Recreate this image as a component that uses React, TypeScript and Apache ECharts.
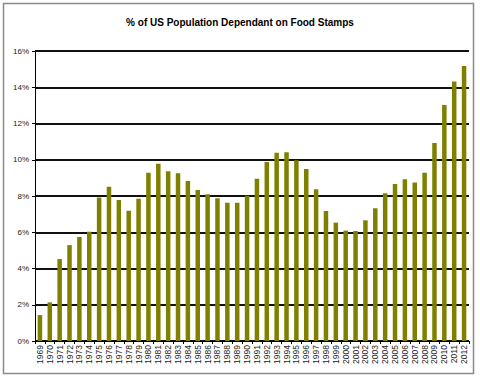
import React, { useEffect, useRef } from "react";
import * as echarts from "echarts";

const years = [
  "1969","1970","1971","1972","1973","1974","1975","1976","1977","1978","1979",
  "1980","1981","1982","1983","1984","1985","1986","1987","1988","1989","1990",
  "1991","1992","1993","1994","1995","1996","1997","1998","1999","2000","2001",
  "2002","2003","2004","2005","2006","2007","2008","2009","2010","2011","2012",
];
const pctValues = [
  1.43, 2.13, 4.52, 5.29, 5.74, 6.03, 7.92, 8.51, 7.78, 7.19, 7.85,
  9.28, 9.78, 9.36, 9.25, 8.83, 8.33, 8.09, 7.87, 7.63, 7.63, 8.02,
  8.95, 9.87, 10.39, 10.42, 9.97, 9.49, 8.37, 7.17, 6.53, 6.09, 6.07,
  6.66, 7.32, 8.15, 8.66, 8.92, 8.75, 9.28, 10.92, 13.02, 14.32, 15.17,
];
const titleText = "% of US Population Dependant on Food Stamps";

export default function App() {
  const ref = useRef<HTMLDivElement>(null);
  useEffect(() => {
    if (!ref.current) return;
    const chart = echarts.init(ref.current, null, { renderer: "svg" });
    chart.setOption({
      animation: false,
      backgroundColor: "#ffffff",
      title: {
        text: titleText,
        left: "center",
        top: 12,
        textStyle: { fontFamily: "Liberation Sans", fontSize: 10, fontWeight: "bold", color: "#000" },
      },
      graphic: [
        {
          type: "rect",
          shape: { x: 3.5, y: 3.5, width: 470, height: 370 },
          style: { fill: "none", stroke: "#8a8a8a", lineWidth: 1.5 },
        },
      ],
      grid: { left: 35, right: 11, top: 51, bottom: 36, containLabel: false },
      xAxis: {
        type: "category",
        data: years,
        axisLine: { lineStyle: { color: "#000", width: 1 } },
        axisTick: { show: true, alignWithLabel: false, length: 3, lineStyle: { color: "#000" } },
        axisLabel: {
          rotate: 90,
          interval: 0,
          fontFamily: "Liberation Sans",
          fontSize: 8.5,
          color: "#222",
          margin: 4,
        },
      },
      yAxis: {
        type: "value",
        min: 0,
        max: 16,
        interval: 2,
        axisLine: { show: true, lineStyle: { color: "#000", width: 1 } },
        axisTick: { show: true, length: 3, lineStyle: { color: "#000" } },
        axisLabel: {
          formatter: (v: number) => v + "%",
          fontFamily: "Liberation Sans",
          fontSize: 8,
          color: "#222",
          margin: 6,
        },
        splitLine: { show: true, lineStyle: { color: "#111", width: 2 } },
      },
      series: [
        {
          type: "bar",
          data: pctValues,
          barWidth: 4.5,
          itemStyle: { color: "#808000" },
        },
      ],
    });
    return () => chart.dispose();
  }, []);
  return <div ref={ref} style={{ width: 480, height: 377, position: "absolute", left: 0, top: 0 }} />;
}
